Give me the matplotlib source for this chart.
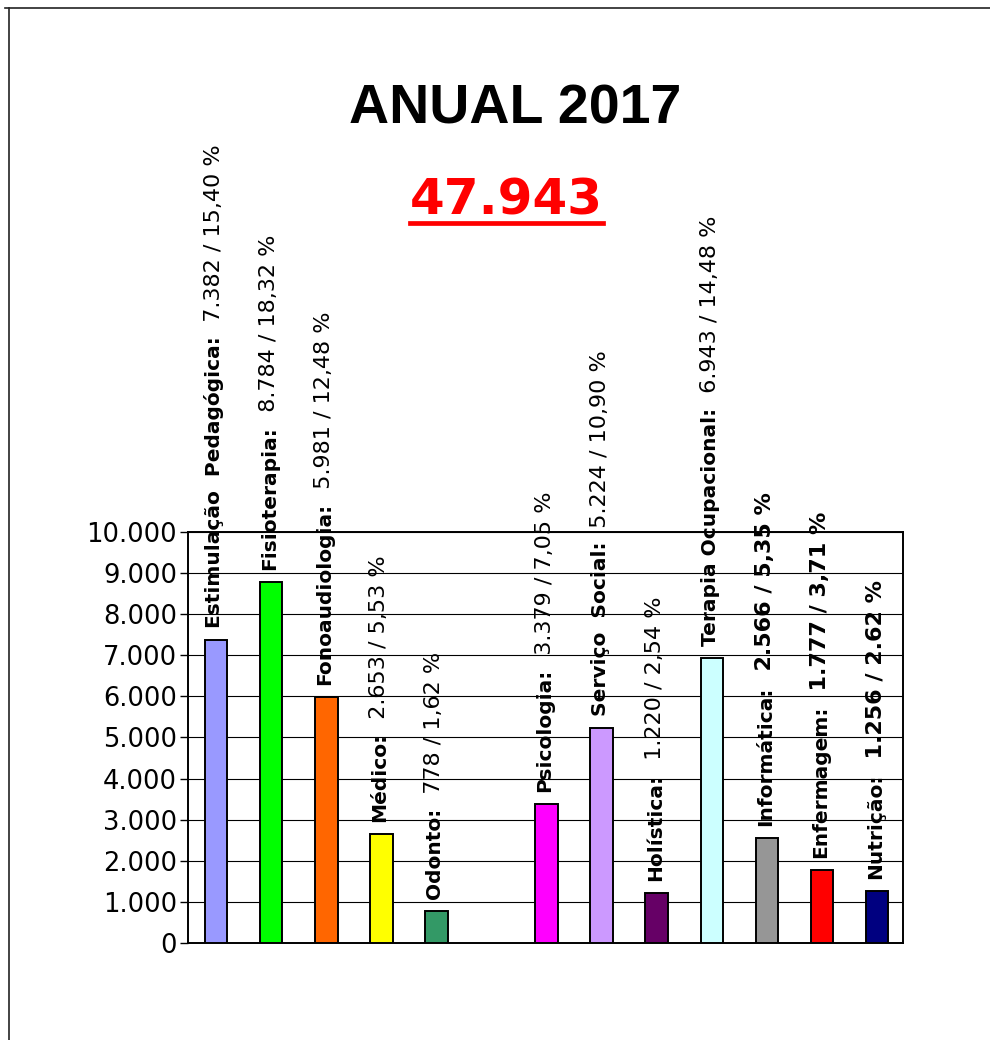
import matplotlib
matplotlib.use("Agg")
import matplotlib.pyplot as plt
import numpy as np
from matplotlib.lines import Line2D
from matplotlib.ticker import FuncFormatter, MultipleLocator
from matplotlib.transforms import IdentityTransform

# ── Dados ────────────────────────────────────────────────────────────────────

areas = [
    "Estimulação  Pedagógica", "Fisioterapia", "Fonoaudiologia", "Médico",
    "Odonto", "", "Psicologia", "Serviço  Social", "Holística",
    "Terapia Ocupacional", "Informática", "Enfermagem", "Nutrição",
]
atendimentos = [7382, 8784, 5981, 2653, 778, None, 3379, 5224, 1220,
                6943, 2566, 1777, 1256]
percentuais = ["15,40", "18,32", "12,48", "5,53", "1,62", None, "7,05",
               "10,90", "2,54", "14,48", "5,35", "3,71", "2.62"]
total = 47943
titulo = "ANUAL 2017"

cores = ["#9999FF", "#00FF00", "#FF6600", "#FFFF00", "#339966", "#FFFFFF",
         "#FF00FF", "#CC99FF", "#660066", "#CCFFFF", "#969696", "#FF0000",
         "#000080"]
valor_negrito = [False, False, False, False, False, False, False, False,
                 False, False, True, True, True]


def milhar(v, _pos=None):
    return f"{int(v):,}".replace(",", ".")


# ── Figura ───────────────────────────────────────────────────────────────────

fig = plt.figure(figsize=(9.9, 10.4), dpi=100)
ax = fig.add_axes([0.1899, 0.0933, 0.7222, 0.3952])

x = np.arange(len(areas))
alturas = [np.nan if v is None else v for v in atendimentos]
ax.bar(x, alturas, width=0.41, color=cores, edgecolor="black",
       linewidth=1.4, zorder=3)

ax.set_xlim(-0.51, len(areas) - 0.53)
ax.set_ylim(0, 10000)
ax.yaxis.set_major_locator(MultipleLocator(1000))
ax.yaxis.set_major_formatter(FuncFormatter(milhar))
ax.set_xticks([])
ax.grid(axis="y", color="black", linewidth=0.8)
ax.set_axisbelow(True)
ax.tick_params(axis="y", direction="out", length=6, width=1,
               labelsize=18.5, pad=2, colors="black")
for s in ax.spines.values():
    s.set_linewidth(1.4)

# rótulos verticais: nome em negrito + valores
nomes = []
for i, (area, v, p) in enumerate(zip(areas, atendimentos, percentuais)):
    if v is None:
        continue
    t = ax.annotate(area + ":", xy=(i, v), xytext=(4, 12),
                    textcoords="offset pixels", rotation=90,
                    rotation_mode="anchor", ha="left", va="baseline",
                    fontsize=14.5, fontweight="bold", annotation_clip=False)
    nomes.append((t, i, v, f"  {milhar(v)} / {p} %", valor_negrito[i]))

fig.text(0.520, 1 - 123 / 1040, titulo, ha="center", va="baseline",
         fontsize=40, fontweight="bold", family=["Liberation Sans", "DejaVu Sans"])
tt = fig.text(0.5116, 1 - 215 / 1040, milhar(total), ha="center",
              va="baseline", fontsize=36, fontweight="bold", color="red")

fig.canvas.draw()
r = fig.canvas.get_renderer()
for t, i, v, txt, negrito in nomes:
    comp = t.get_window_extent(r).height
    ax.annotate(txt, xy=(i, v), xytext=(4, 12 + comp),
                textcoords="offset pixels", rotation=90,
                rotation_mode="anchor", ha="left", va="baseline",
                fontsize=16, fontweight="bold" if negrito else "normal",
                annotation_clip=False)

# sublinhado do total
bb = tt.get_window_extent(r)
y_sub = 1040 - 223
fig.add_artist(Line2D([bb.x0, bb.x1], [y_sub, y_sub], color="red",
                      linewidth=3.4, transform=IdentityTransform()))

# moldura (topo e esquerda)
fig.add_artist(Line2D([5 / 990, 1], [1 - 8 / 1040, 1 - 8 / 1040],
                      color="#222222", linewidth=1.2))
fig.add_artist(Line2D([9 / 990, 9 / 990], [1 - 8 / 1040, 0],
                      color="#222222", linewidth=1.2))

fig.savefig("out.png", dpi=100)
